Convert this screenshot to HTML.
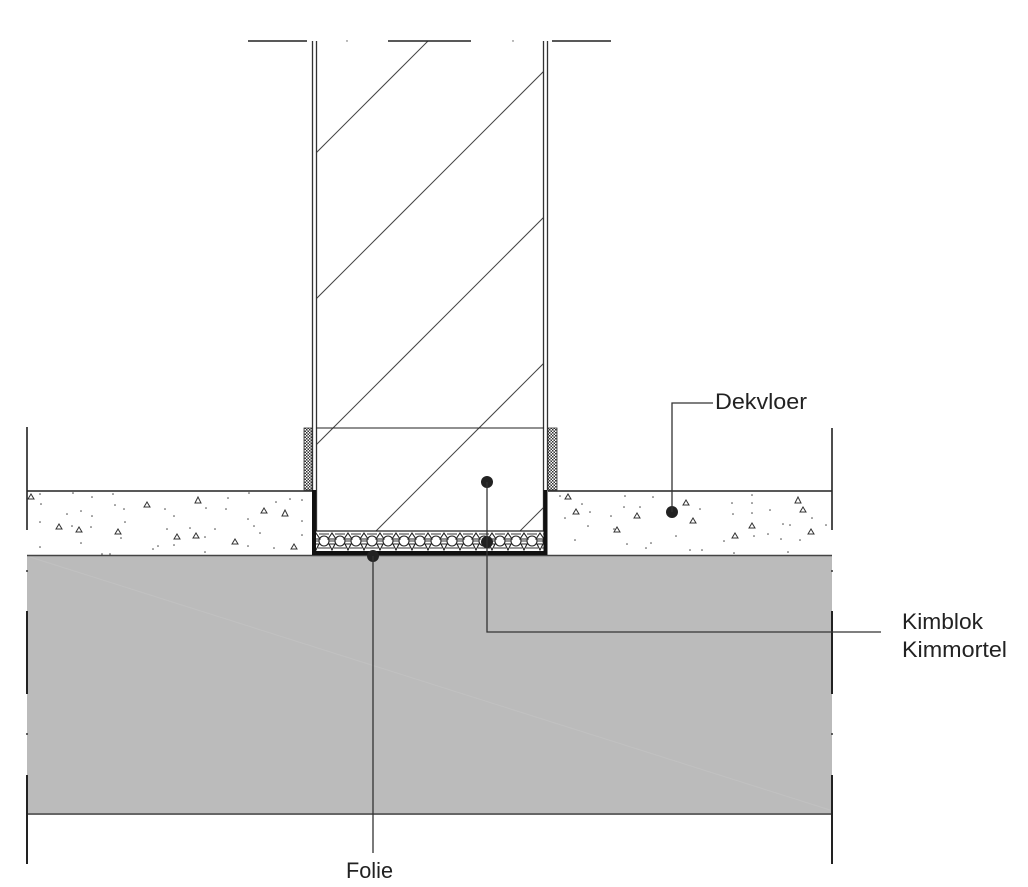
<!DOCTYPE html>
<html>
<head>
<meta charset="utf-8">
<style>
html,body{margin:0;padding:0;background:#fff;}
svg{display:block;}
text{font-family:"Liberation Sans",sans-serif;fill:#222;}
</style>
</head>
<body>
<svg width="1028" height="887" viewBox="0 0 1028 887" xmlns="http://www.w3.org/2000/svg">
<defs>
  <pattern id="chk" x="0" y="0" width="3" height="3" patternUnits="userSpaceOnUse">
    <rect width="3" height="3" fill="#fff"/>
    <rect width="1.5" height="1.5" fill="#333"/>
    <rect x="1.5" y="1.5" width="1.5" height="1.5" fill="#333"/>
  </pattern>
  <pattern id="mort" x="316" y="531" width="16" height="21" patternUnits="userSpaceOnUse">
    <rect width="16" height="21" fill="#fff"/>
    <circle cx="8" cy="10" r="5" fill="#fff" stroke="#222" stroke-width="1.1"/>
    <path d="M0 2 L4 8 L-2 8 Z M16 2 L20 8 L12 8 Z M0 19 L3 13 L-3 13 Z M16 19 L19 13 L13 13 Z" fill="none" stroke="#222" stroke-width="1.1"/>
    <path d="M3 3 L13 3 M2 17 L14 17 M0 10 L3 10 M13 10 L16 10" stroke="#333" stroke-width="1"/>
  </pattern>
  <clipPath id="wallclip"><rect x="317" y="41" width="226" height="490"/></clipPath>
</defs>

<!-- gray slab -->
<rect x="27" y="555" width="805" height="259" fill="#bbbbbb"/>
<line x1="30" y1="557" x2="830" y2="810" stroke="#c1c1c1" stroke-width="1"/>
<line x1="27" y1="555.5" x2="832" y2="555.5" stroke="#444" stroke-width="1.5"/>
<line x1="27" y1="814" x2="832" y2="814" stroke="#666" stroke-width="2"/>

<!-- edge verticals -->
<g stroke="#222" stroke-width="1.6">
  <line x1="27" y1="427" x2="27" y2="530"/>
  <line x1="832" y1="428" x2="832" y2="530"/>
  <line x1="27" y1="611" x2="27" y2="694" stroke-width="2"/>
  <line x1="27" y1="775" x2="27" y2="864" stroke-width="2"/>
  <line x1="832" y1="611" x2="832" y2="694" stroke-width="2"/>
  <line x1="832" y1="775" x2="832" y2="864" stroke-width="2"/>
</g>
<g fill="#333">
  <circle cx="27" cy="571" r="1"/><circle cx="27" cy="734" r="1"/>
  <circle cx="832" cy="571" r="1"/><circle cx="832" cy="734" r="1"/>
</g>

<!-- screed top lines -->
<line x1="27" y1="491" x2="312" y2="491" stroke="#222" stroke-width="1.4"/>
<line x1="548" y1="491" x2="832" y2="491" stroke="#222" stroke-width="1.4"/>

<!-- screed speckles -->
<g fill="#444">
  <circle cx="40" cy="494" r="0.8"/><circle cx="73" cy="493" r="0.8"/><circle cx="92" cy="497" r="0.8"/><circle cx="113" cy="494" r="0.8"/>
  <circle cx="41" cy="504" r="0.8"/><circle cx="81" cy="511" r="0.8"/><circle cx="115" cy="505" r="0.8"/><circle cx="124" cy="509" r="0.8"/>
  <circle cx="67" cy="514" r="0.8"/><circle cx="92" cy="516" r="0.8"/><circle cx="40" cy="522" r="0.8"/><circle cx="72" cy="526" r="0.8"/>
  <circle cx="91" cy="527" r="0.8"/><circle cx="125" cy="522" r="0.8"/><circle cx="165" cy="509" r="0.8"/><circle cx="174" cy="516" r="0.8"/>
  <circle cx="206" cy="508" r="0.8"/><circle cx="226" cy="509" r="0.8"/><circle cx="228" cy="498" r="0.8"/><circle cx="249" cy="493" r="0.8"/>
  <circle cx="248" cy="519" r="0.8"/><circle cx="254" cy="526" r="0.8"/><circle cx="276" cy="502" r="0.8"/><circle cx="290" cy="499" r="0.8"/>
  <circle cx="302" cy="500" r="0.8"/><circle cx="302" cy="521" r="0.8"/><circle cx="302" cy="535" r="0.8"/><circle cx="40" cy="547" r="0.8"/>
  <circle cx="81" cy="543" r="0.8"/><circle cx="153" cy="549" r="0.8"/><circle cx="158" cy="546" r="0.8"/><circle cx="174" cy="545" r="0.8"/>
  <circle cx="205" cy="552" r="0.8"/><circle cx="248" cy="546" r="0.8"/><circle cx="274" cy="548" r="0.8"/><circle cx="121" cy="538" r="0.8"/>
  <circle cx="167" cy="529" r="0.8"/><circle cx="190" cy="528" r="0.8"/><circle cx="215" cy="529" r="0.8"/><circle cx="205" cy="537" r="0.8"/>
  <circle cx="260" cy="533" r="0.8"/><circle cx="102" cy="554" r="0.8"/><circle cx="110" cy="554" r="0.8"/>
  <circle cx="560" cy="496" r="0.8"/><circle cx="582" cy="504" r="0.8"/><circle cx="625" cy="496" r="0.8"/><circle cx="653" cy="497" r="0.8"/>
  <circle cx="624" cy="507" r="0.8"/><circle cx="640" cy="507" r="0.8"/><circle cx="565" cy="518" r="0.8"/><circle cx="590" cy="512" r="0.8"/>
  <circle cx="588" cy="526" r="0.8"/><circle cx="611" cy="516" r="0.8"/><circle cx="575" cy="540" r="0.8"/><circle cx="627" cy="544" r="0.8"/>
  <circle cx="651" cy="543" r="0.8"/><circle cx="646" cy="548" r="0.8"/><circle cx="676" cy="536" r="0.8"/><circle cx="690" cy="550" r="0.8"/>
  <circle cx="702" cy="550" r="0.8"/><circle cx="732" cy="503" r="0.8"/><circle cx="752" cy="495" r="0.8"/><circle cx="752" cy="503" r="0.8"/>
  <circle cx="733" cy="514" r="0.8"/><circle cx="752" cy="513" r="0.8"/><circle cx="770" cy="510" r="0.8"/><circle cx="768" cy="534" r="0.8"/>
  <circle cx="781" cy="539" r="0.8"/><circle cx="783" cy="524" r="0.8"/><circle cx="790" cy="525" r="0.8"/><circle cx="800" cy="540" r="0.8"/>
  <circle cx="812" cy="518" r="0.8"/><circle cx="826" cy="525" r="0.8"/><circle cx="614" cy="529" r="0.8"/><circle cx="734" cy="553" r="0.8"/>
  <circle cx="788" cy="552" r="0.8"/><circle cx="724" cy="541" r="0.8"/><circle cx="754" cy="536" r="0.8"/><circle cx="700" cy="509" r="0.8"/>
</g>
<g fill="none" stroke="#333" stroke-width="1">
  <path d="M144 507 l3 -5 l3 5 z"/><path d="M195 503 l3 -6 l3 6 z"/><path d="M56 529 l3 -5 l3 5 z"/>
  <path d="M76 532 l3 -5 l3 5 z"/><path d="M115 534 l3 -5 l3 5 z"/><path d="M174 539 l3 -5 l3 5 z"/>
  <path d="M193 538 l3 -5 l3 5 z"/><path d="M232 544 l3 -5 l3 5 z"/><path d="M261 513 l3 -5 l3 5 z"/>
  <path d="M282 516 l3 -6 l3 6 z"/><path d="M291 549 l3 -5 l3 5 z"/><path d="M28 499 l3 -5 l3 5 z"/>
  <path d="M565 499 l3 -5 l3 5 z"/><path d="M573 514 l3 -5 l3 5 z"/><path d="M634 518 l3 -5 l3 5 z"/>
  <path d="M614 532 l3 -5 l3 5 z"/><path d="M683 505 l3 -5 l3 5 z"/><path d="M690 523 l3 -5 l3 5 z"/>
  <path d="M732 538 l3 -5 l3 5 z"/><path d="M749 528 l3 -5 l3 5 z"/><path d="M795 503 l3 -6 l3 6 z"/>
  <path d="M800 512 l3 -5 l3 5 z"/><path d="M808 534 l3 -5 l3 5 z"/>
</g>

<!-- wall hatch -->
<g clip-path="url(#wallclip)" stroke="#444" stroke-width="1">
  <line x1="428" y1="41" x2="-72" y2="541"/>
  <line x1="574" y1="41" x2="74" y2="541"/>
  <line x1="720" y1="41" x2="220" y2="541"/>
  <line x1="866" y1="41" x2="366" y2="541"/>
  <line x1="1010" y1="41" x2="510" y2="541"/>
</g>

<!-- top broken line -->
<g stroke="#222" stroke-width="1.4">
  <line x1="248" y1="41" x2="307" y2="41"/>
  <line x1="388" y1="41" x2="471" y2="41"/>
  <line x1="552" y1="41" x2="611" y2="41"/>
</g>
<circle cx="347" cy="41" r="0.7" fill="#555"/><circle cx="513" cy="41" r="0.7" fill="#555"/>

<!-- wall double lines -->
<g stroke="#333" stroke-width="1.3">
  <line x1="312.5" y1="41" x2="312.5" y2="490"/>
  <line x1="316.5" y1="41" x2="316.5" y2="531"/>
  <line x1="543.5" y1="41" x2="543.5" y2="531"/>
  <line x1="547.5" y1="41" x2="547.5" y2="490"/>
</g>

<!-- kimblok top line -->
<line x1="316" y1="428" x2="544" y2="428" stroke="#222" stroke-width="1.1"/>

<!-- checkered strips -->
<rect x="304" y="428" width="8" height="62" fill="url(#chk)" stroke="#333" stroke-width="0.8"/>
<rect x="548" y="428" width="9" height="62" fill="url(#chk)" stroke="#333" stroke-width="0.8"/>

<!-- kimmortel band -->
<rect x="316" y="531" width="228" height="21" fill="url(#mort)"/>
<line x1="316" y1="531" x2="544" y2="531" stroke="#222" stroke-width="1.2"/>

<!-- foil -->
<path d="M314 490 L314 553 L545.5 553 L545.5 490" fill="none" stroke="#111" stroke-width="4"/>

<!-- markers -->
<g fill="#222">
  <circle cx="487" cy="482" r="6"/>
  <circle cx="487" cy="542" r="6"/>
  <circle cx="373" cy="556" r="6"/>
  <circle cx="672" cy="512" r="6"/>
</g>

<!-- leader lines -->
<g stroke="#333" stroke-width="1.3" fill="none">
  <path d="M487 482 L487 632 L881 632"/>
  <path d="M672 512 L672 403 L713 403"/>
  <path d="M373 556 L373 853"/>
</g>

<!-- labels -->
<text x="715" y="409" font-size="22" textLength="92" lengthAdjust="spacingAndGlyphs">Dekvloer</text>
<text x="902" y="629" font-size="22" textLength="81" lengthAdjust="spacingAndGlyphs">Kimblok</text>
<text x="902" y="657" font-size="22" textLength="105" lengthAdjust="spacingAndGlyphs">Kimmortel</text>
<text x="346" y="878" font-size="22" textLength="47" lengthAdjust="spacingAndGlyphs">Folie</text>
</svg>
</body>
</html>
